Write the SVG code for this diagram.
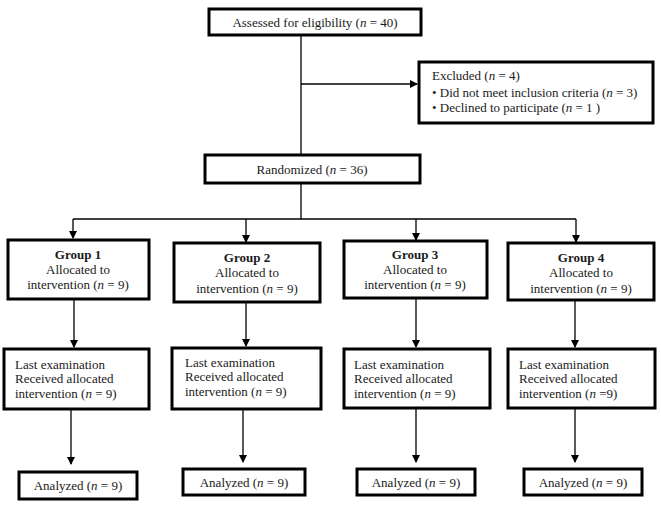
<svg xmlns="http://www.w3.org/2000/svg" width="661" height="512" viewBox="0 0 661 512">
<style>
.box{fill:#fff;stroke:#000;stroke-width:3}
.t{font-family:"Liberation Serif","Times New Roman",serif;font-size:13px;fill:#1a1a1a}
.c{text-anchor:middle}
.b{font-weight:bold}
.ln{stroke:#000;stroke-width:1.3;fill:none}
</style>
<defs>
<marker id="ah" markerWidth="8" markerHeight="8" refX="7" refY="4" orient="auto" markerUnits="userSpaceOnUse">
<path d="M0,0 L8,4 L0,8 Z" fill="#000"/>
</marker>
</defs>
<rect width="661" height="512" fill="#fff"/>
<g id="connectors">
<line class="ln" x1="301" y1="35" x2="301" y2="155"/>
<line class="ln" x1="301" y1="84" x2="417" y2="84" marker-end="url(#ah)"/>
<line class="ln" x1="301" y1="183" x2="301" y2="219"/>
<line class="ln" x1="73" y1="219" x2="576" y2="219"/>
<line class="ln" x1="73" y1="219" x2="73" y2="238" marker-end="url(#ah)"/>
<line class="ln" x1="246" y1="219" x2="246" y2="242" marker-end="url(#ah)"/>
<line class="ln" x1="416" y1="219" x2="416" y2="240" marker-end="url(#ah)"/>
<line class="ln" x1="576" y1="219" x2="576" y2="242" marker-end="url(#ah)"/>
<line class="ln" x1="74" y1="300" x2="74" y2="347" marker-end="url(#ah)"/>
<line class="ln" x1="246" y1="303" x2="246" y2="346" marker-end="url(#ah)"/>
<line class="ln" x1="416" y1="299" x2="416" y2="347" marker-end="url(#ah)"/>
<line class="ln" x1="575" y1="301" x2="575" y2="347" marker-end="url(#ah)"/>
<line class="ln" x1="71" y1="410" x2="71" y2="464" marker-end="url(#ah)"/>
<line class="ln" x1="243" y1="410" x2="243" y2="462" marker-end="url(#ah)"/>
<line class="ln" x1="416" y1="409" x2="416" y2="462" marker-end="url(#ah)"/>
<line class="ln" x1="575" y1="409" x2="575" y2="462" marker-end="url(#ah)"/>
</g>
<g id="assessed">
<rect class="box" x="209" y="9" width="212" height="26"/>
<text class="t c" x="315" y="27">Assessed for eligibility (<tspan font-style="italic">n</tspan> = 40)</text>
</g>
<g id="excluded">
<rect class="box" x="419" y="62" width="234" height="61"/>
<text class="t" x="432" y="80">Excluded (<tspan font-style="italic">n</tspan> = 4)</text>
<text class="t" x="432" y="97">• Did not meet inclusion criteria (<tspan font-style="italic">n</tspan> = 3)</text>
<text class="t" x="432" y="112">• Declined to participate (<tspan font-style="italic">n</tspan> = 1 )</text>
</g>
<g id="randomized">
<rect class="box" x="205" y="155" width="215" height="28"/>
<text class="t c" x="312" y="174">Randomized (<tspan font-style="italic">n</tspan> = 36)</text>
</g>
<g id="group1">
<rect class="box" x="8" y="240" width="141" height="59"/>
<text class="t c b" x="78" y="259">Group 1</text>
<text class="t c" x="78" y="274">Allocated to</text>
<text class="t c" x="78" y="289">intervention (<tspan font-style="italic">n</tspan> = 9)</text>
</g>
<g id="group2">
<rect class="box" x="174" y="243" width="146" height="59"/>
<text class="t c b" x="247" y="262">Group 2</text>
<text class="t c" x="247" y="277">Allocated to</text>
<text class="t c" x="247" y="293">intervention (<tspan font-style="italic">n</tspan> = 9)</text>
</g>
<g id="group3">
<rect class="box" x="344" y="241" width="143" height="57"/>
<text class="t c" x="415" y="259"><tspan class="b">Group 3</tspan></text>
<text class="t c" x="415" y="274">Allocated to</text>
<text class="t c" x="415" y="289">intervention (<tspan font-style="italic">n</tspan> = 9)</text>
</g>
<g id="group4">
<rect class="box" x="508" y="243" width="146" height="57"/>
<text class="t c b" x="581" y="262">Group 4</text>
<text class="t c" x="581" y="277">Allocated to</text>
<text class="t c" x="581" y="293">intervention (<tspan font-style="italic">n</tspan> = 9)</text>
</g>
<g id="exam1">
<rect class="box" x="4" y="349" width="145" height="60"/>
<text class="t" x="15" y="369">Last examination</text>
<text class="t" x="15" y="383">Received allocated</text>
<text class="t" x="15" y="398">intervention (<tspan font-style="italic">n</tspan> = 9)</text>
</g>
<g id="exam2">
<rect class="box" x="172" y="348" width="149" height="61"/>
<text class="t" x="185" y="367">Last examination</text>
<text class="t" x="185" y="381">Received allocated</text>
<text class="t" x="185" y="396">intervention (<tspan font-style="italic">n</tspan> = 9)</text>
</g>
<g id="exam3">
<rect class="box" x="344" y="349" width="146" height="59"/>
<text class="t" x="354" y="369">Last examination</text>
<text class="t" x="354" y="383">Received allocated</text>
<text class="t" x="354" y="398">intervention (<tspan font-style="italic">n</tspan> = 9)</text>
</g>
<g id="exam4">
<rect class="box" x="508" y="349" width="147" height="59"/>
<text class="t" x="519" y="369">Last examination</text>
<text class="t" x="519" y="383">Received allocated</text>
<text class="t" x="519" y="398">intervention (<tspan font-style="italic">n</tspan> =9)</text>
</g>
<g id="analyzed1">
<rect class="box" x="19" y="472" width="118" height="27"/>
<text class="t c" x="78" y="490">Analyzed (<tspan font-style="italic">n</tspan> = 9)</text>
</g>
<g id="analyzed2">
<rect class="box" x="183" y="469" width="122" height="26"/>
<text class="t c" x="244" y="487">Analyzed (<tspan font-style="italic">n</tspan> = 9)</text>
</g>
<g id="analyzed3">
<rect class="box" x="357" y="469" width="118" height="26"/>
<text class="t c" x="416" y="487">Analyzed (<tspan font-style="italic">n</tspan> = 9)</text>
</g>
<g id="analyzed4">
<rect class="box" x="524" y="469" width="118" height="26"/>
<text class="t c" x="583" y="487">Analyzed (<tspan font-style="italic">n</tspan> = 9)</text>
</g>
</svg>
